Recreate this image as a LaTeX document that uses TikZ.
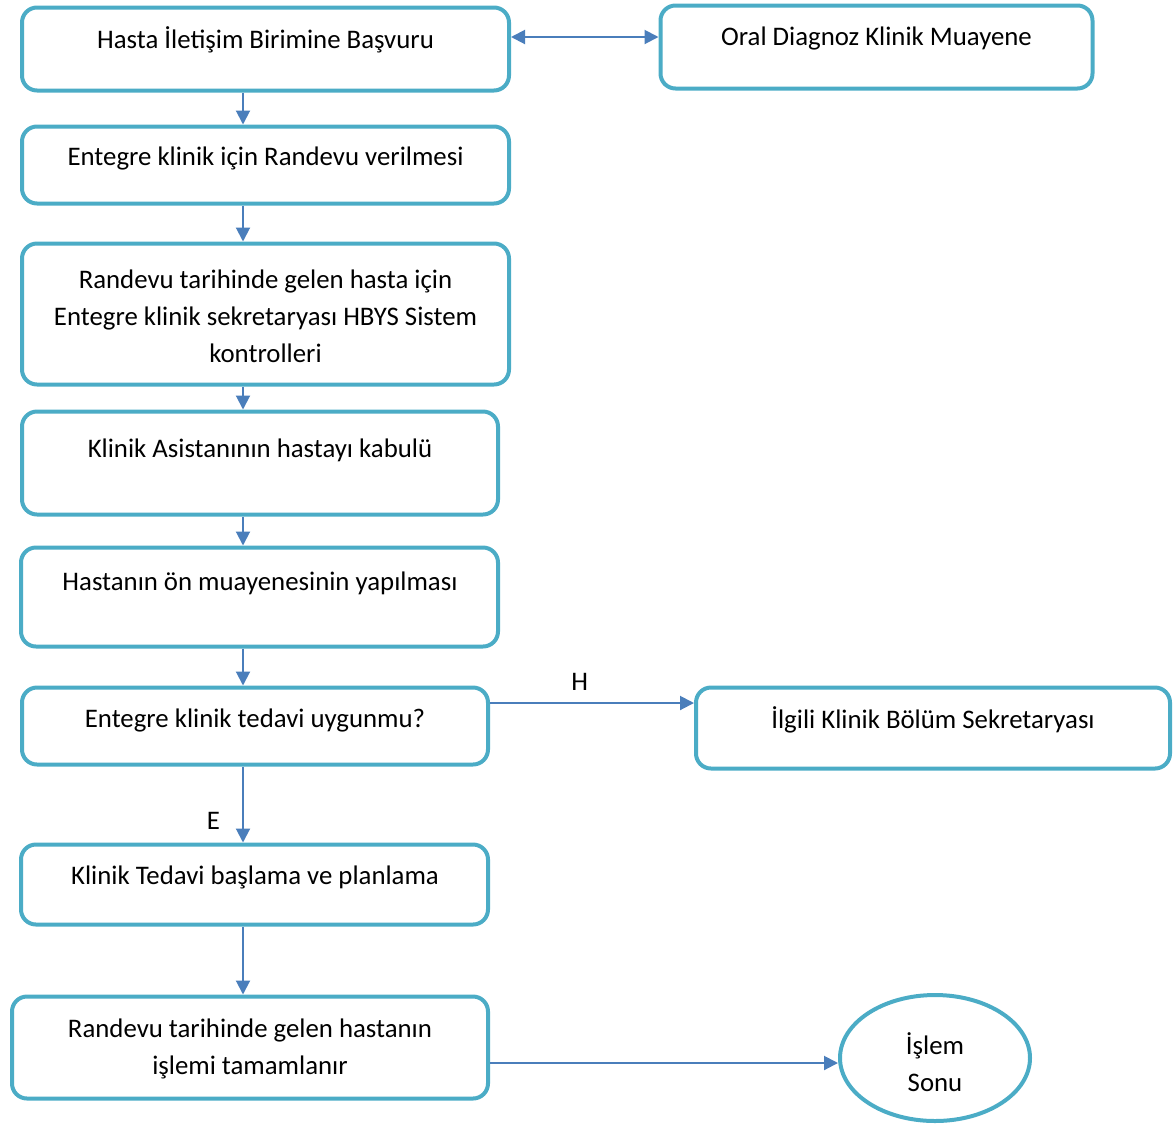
\documentclass[tikz,border=0pt]{standalone}
\usepackage{fontspec}
\setmainfont{Carlito}
\usetikzlibrary{arrows.meta,shapes.geometric}
\definecolor{kenar}{HTML}{4BACC6}
\definecolor{ok}{HTML}{4A7EBB}
\begin{document}
\begin{tikzpicture}[x=0.5pt,y=-0.5pt]
\tikzstyle{kutu}=[rectangle, rounded corners=7.5pt, draw=kenar, line width=2pt, fill=white]
\tikzstyle{yazi}=[align=center, inner sep=0pt, font=\fontsize{13.4}{18.5}\selectfont]
\tikzstyle{arr}=[draw=ok, line width=1pt, -{Triangle[length=7pt,width=7pt]}]
\useasboundingbox (0,0) rectangle (1173,1126);
	\node[kutu, minimum width=243.5pt, minimum height=41.5pt] (hasta) at (265.5,49){};
	\node[kutu, minimum width=216pt, minimum height=41.5pt] (oral) at (876.5,47){};
	\node[kutu, minimum width=243.5pt, minimum height=38.5pt] (randevu) at (265.5,165){};
	\node[kutu, minimum width=243.5pt, minimum height=70.5pt] (kontrol) at (265.5,314){};
	\node[kutu, minimum width=238pt, minimum height=51.5pt] (asistan) at (260,463){};
	\node[kutu, minimum width=238.5pt, minimum height=49.5pt] (onmuayene) at (259.5,597){};
	\node[kutu, minimum width=233pt, minimum height=38.5pt] (karar) at (255,726){};
	\node[kutu, minimum width=237pt, minimum height=40.5pt] (ilgili) at (933,728){};
	\node[kutu, minimum width=233.5pt, minimum height=40pt] (tedavi) at (254.5,884.5){};
	\node[kutu, minimum width=238pt, minimum height=51pt] (tamam) at (250,1047.5){};
	\node[ellipse, draw=kenar, line width=2pt, minimum width=95pt, minimum height=63pt] (sonu) at (935,1058){};
	\node[yazi] (thasta) at (265.5,40){Hasta İletişim Birimine Başvuru};
	\node[yazi] (toral) at (876.5,38){Oral Diagnoz Klinik Muayene};
	\node[yazi] (trandevu) at (265.5,158){Entegre klinik için Randevu verilmesi};
	\node[yazi] (tkontrol) at (265.5,316){Randevu tarihinde gelen hasta için\\Entegre klinik sekretaryası HBYS Sistem\\kontrolleri};
	\node[yazi] (tasistan) at (260,450){Klinik Asistanının hastayı kabulü};
	\node[yazi] (tonmuayene) at (260,583){Hastanın ön muayenesinin yapılması};
	\node[yazi] (tkarar) at (255,720){Entegre klinik tedavi uygunmu?};
	\node[yazi] (tilgili) at (933,720){İlgili Klinik Bölüm Sekretaryası};
	\node[yazi] (ttedavi) at (255,877){Klinik Tedavi başlama ve planlama};
	\node[yazi] (ttamam) at (250,1049){Randevu tarihinde gelen hastanın\\işlemi tamamlanır};
	\node[yazi] (tsonu) at (935,1062){İşlem\\Sonu};
	\coordinate (ax) at (243,0);
	\coordinate (dy) at (0,37);
	\coordinate (hy) at (0,703);
	\coordinate (fy) at (0,1063);
\draw[arr] (hasta.south-|ax)--(randevu.north-|ax);
\draw[arr] (randevu.south-|ax)--(kontrol.north-|ax);
\draw[arr] (kontrol.south-|ax)--(asistan.north-|ax);
\draw[arr] (asistan.south-|ax)--(onmuayene.north-|ax);
\draw[arr] (onmuayene.south-|ax)--(karar.north-|ax);
\draw[arr] (karar.south-|ax)--(tedavi.north-|ax) node[yazi, pos=0.72, left=11pt] (e) {E};
\draw[arr] (tedavi.south-|ax)--(tamam.north-|ax);
\draw[arr, {Triangle[length=7pt,width=7pt]}-{Triangle[length=7pt,width=7pt]}] (hasta.east|-dy)--(oral.west|-dy);
\draw[arr] (karar.east|-hy)--(ilgili.west|-hy) node[yazi, pos=0.44, above=6pt] (h) {H};
\draw[arr] (tamam.east|-fy)--(sonu.west|-fy);
\end{tikzpicture}
\end{document}
